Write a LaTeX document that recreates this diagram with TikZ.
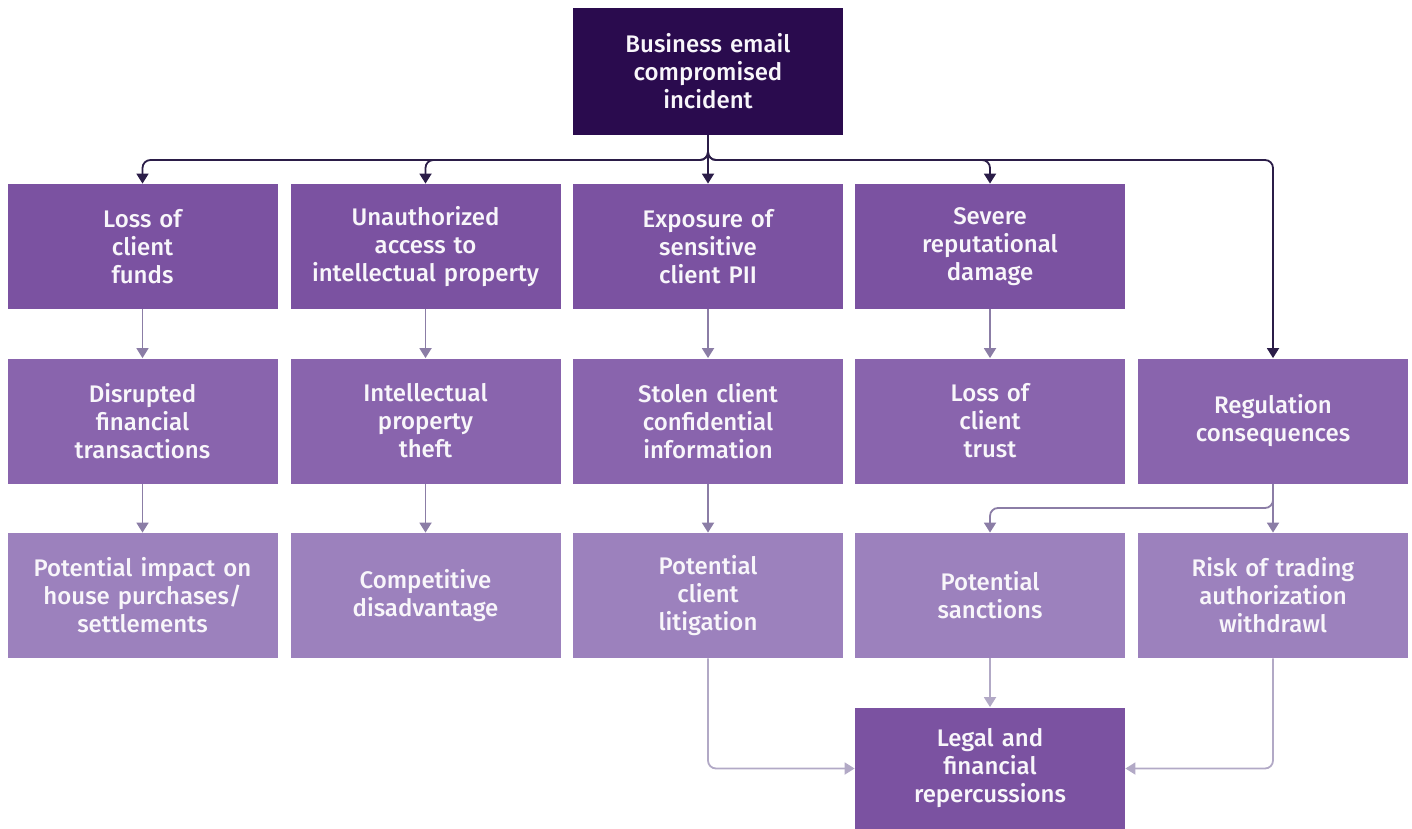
\documentclass[tikz,border=0pt]{standalone}
\usepackage{fontspec}
\setmainfont{Fira Sans}
\newfontfamily\boxfont{Fira Sans Medium}
\usetikzlibrary{arrows.meta}

\definecolor{incident}{HTML}{2A0B4E}
\definecolor{impactA}{HTML}{7B52A1}
\definecolor{impactB}{HTML}{8964AD}
\definecolor{impactC}{HTML}{9C81BD}
\definecolor{linkdark}{HTML}{2B1D48}
\definecolor{linkmid}{HTML}{8B7DA6}
\definecolor{linklight}{HTML}{B2A9C6}

\tikzset{
  box/.style={rectangle, minimum width=135pt, minimum height=62.5pt, text width=130pt,
    align=center, inner sep=0pt, text=white!95!impactA,
    font=\boxfont\fontsize{12}{14}\selectfont},
  toplink/.style={draw=linkdark, line width=0.9pt, rounded corners=4pt,
    -{Triangle[width=6pt,length=5pt]}},
  midlink/.style={draw=linkmid, line width=0.9pt, rounded corners=4pt,
    -{Triangle[width=6pt,length=5pt]}},
  lowlink/.style={draw=linklight, line width=0.9pt, rounded corners=4pt,
    -{Triangle[width=6pt,length=5pt]}}
}

\begin{document}
\begin{tikzpicture}[x=0.5pt,y=-0.5pt]
\useasboundingbox (0,0) rectangle (1412,829);

% incident
\node[box, fill=incident, minimum height=63.5pt] (incident) at (708,71.5) {Business email\\compromised\\incident};

% first consequences
\node[box, fill=impactA] (funds) at (142.5,246.5) {Loss of\\client\\funds};
\node[box, fill=impactA] (access) at (425.5,246.5) {Unauthorized\\access to\\intellectual property};
\node[box, fill=impactA] (exposure) at (708,246.5) {Exposure of\\sensitive\\client PII};
\node[box, fill=impactA] (damage) at (990,246.5) {Severe\\reputational\\damage};

% second row
\node[box, fill=impactB] (disrupted) at (142.5,421) {Disrupted\\financial\\transactions};
\node[box, fill=impactB] (theft) at (425.5,421) {Intellectual\\property\\theft};
\node[box, fill=impactB] (stolen) at (708,421) {Stolen client\\confidential\\information};
\node[box, fill=impactB] (trust) at (990,421) {Loss of\\client\\trust};
\node[box, fill=impactB] (regulation) at (1273,421) {Regulation\\consequences};

% third row
\node[box, fill=impactC] (house) at (142.5,595.5) {Potential impact on\\house purchases/\\settlements};
\node[box, fill=impactC] (competitive) at (425.5,595.5) {Competitive\\disadvantage};
\node[box, fill=impactC] (litigation) at (708,595.5) {Potential\\client\\litigation};
\node[box, fill=impactC] (sanctions) at (990,595.5) {Potential\\sanctions};
\node[box, fill=impactC] (withdrawl) at (1273,595.5) {Risk of trading\\authorization\\withdrawl};

% outcome
\node[box, fill=impactA, minimum height=61pt] (legal) at (990,768.5) {Legal and\\financial\\repercussions};

\coordinate (split) at (708,160);
\coordinate (regsplit) at (1273,508);

% incident branches
\draw[toplink] (incident.south) -- (split) -| (funds.north);
\draw[toplink] (incident.south) -- (split) -| (access.north);
\draw[toplink] (incident.south) -- (exposure.north);
\draw[toplink] (incident.south) -- (split) -| (damage.north);
\draw[toplink] (incident.south) -- (split) -| (regulation.north);

% down the columns
\draw[midlink] (funds) -- (disrupted);
\draw[midlink] (access) -- (theft);
\draw[midlink] (exposure) -- (stolen);
\draw[midlink] (damage) -- (trust);
\draw[midlink] (disrupted) -- (house);
\draw[midlink] (theft) -- (competitive);
\draw[midlink] (stolen) -- (litigation);
\draw[midlink] (regulation) -- (withdrawl);
\draw[midlink] (regulation.south) -- (regsplit) -| (sanctions.north);

% into the outcome
\draw[lowlink] (litigation.south) |- (legal.west);
\draw[lowlink] (sanctions) -- (legal);
\draw[lowlink] (withdrawl.south) |- (legal.east);
\end{tikzpicture}
\end{document}
